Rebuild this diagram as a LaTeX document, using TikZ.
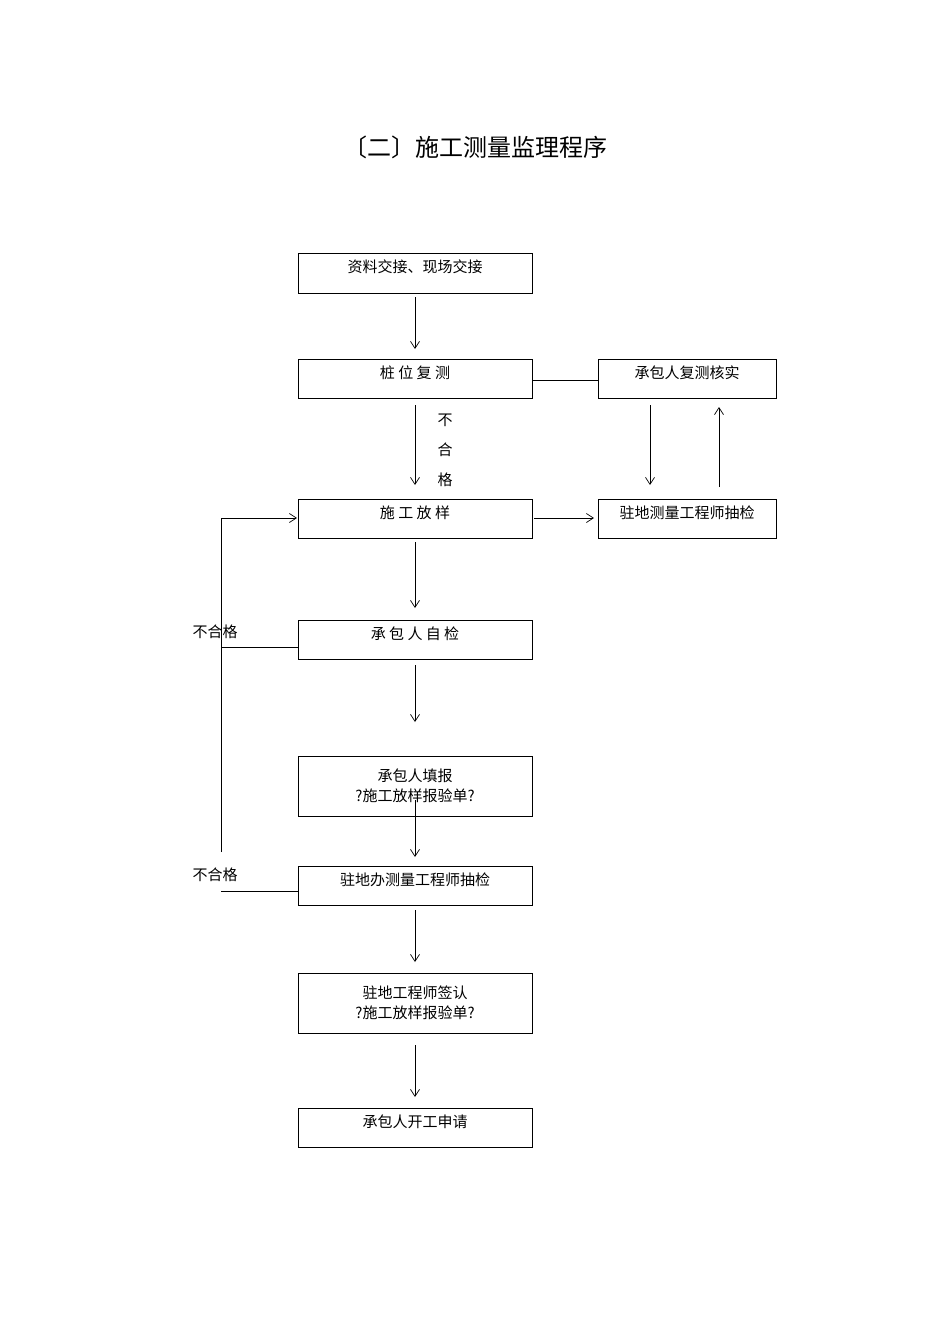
\documentclass[tikz,border=0pt]{standalone}
\usepackage{fontspec}
\setmainfont{Noto Sans CJK SC}
\usetikzlibrary{arrows.meta}
\begin{document}
\begin{tikzpicture}[x=1pt,y=-1pt,
 bx/.style={draw,line width=0.8pt,minimum width=234pt,anchor=north west,inner sep=0pt},
 sbx/.style={draw,line width=0.8pt,minimum width=178pt,anchor=north west,inner sep=0pt},
 ar/.style={-{Straight Barb[length=7pt,width=9pt]},line width=0.7pt},
 ln/.style={line width=0.7pt},
 tx/.style={font=\fontsize{15}{20}\selectfont,align=center}]
\useasboundingbox (0,0) rectangle (950,1344);
\node[font=\fontsize{24}{28}\selectfont] (title) at (475,147) {〔二〕施工测量监理程序};
\node[bx,minimum height=40pt] (b1) at (298,253) {};
\node[tx] at (415,267) {资料交接、现场交接};
\node[bx,minimum height=39pt] (b2) at (298,359) {};
\node[tx] at (415,373) {桩 位 复 测};
\node[sbx,minimum height=39pt] (b3) at (598,359) {};
\node[tx] at (687,373) {承包人复测核实};
\node[bx,minimum height=39pt] (b4) at (298,499) {};
\node[tx] at (415,513) {施 工 放 样};
\node[sbx,minimum height=39pt] (b5) at (598,499) {};
\node[tx] at (687,513) {驻地测量工程师抽检};
\node[bx,minimum height=39pt] (b6) at (298,620) {};
\node[tx] at (415,634) {承 包 人 自 检};
\node[bx,minimum height=60pt] (b7) at (298,756) {};
\node[tx] at (415,786) {承包人填报\\?施工放样报验单?};
\node[bx,minimum height=39pt] (b8) at (298,866) {};
\node[tx] at (415,880) {驻地办测量工程师抽检};
\node[bx,minimum height=60pt] (b9) at (298,973) {};
\node[tx] at (415,1003) {驻地工程师签认\\?施工放样报验单?};
\node[bx,minimum height=39pt] (b10) at (298,1108) {};
\node[tx] at (415,1122) {承包人开工申请};
\node[tx] (n1) at (445,450) {不\\[10pt]合\\[10pt]格};
\node[tx] (n2) at (215,632) {不合格};
\node[tx] (n3) at (215,875) {不合格};
\coordinate (L1) at (221,647);
\coordinate (L2) at (221,891);
\coordinate (Ltop) at (221,518);
\coordinate (Lbot) at (221,852);
\draw[ar] (415,297) -- (415,349);
\draw[ar] (415,405) -- (415,485);
\draw[ar] (415,542) -- (415,608);
\draw[ar] (415,665) -- (415,722);
\draw[ar] (415,800) -- (415,857);
\draw[ar] (415,910) -- (415,962);
\draw[ar] (415,1045) -- (415,1097);
\draw[ln] (b2.east |- 0,380) -- (b3.west |- 0,380);
\draw[ar] (650,405) -- (650,485);
\draw[ar] (719,487) -- (719,407);
\draw[ar] (534,518) -- (594,518);
\draw[ln] (b6.west |- L1) -- (L1);
\draw[ln] (b8.west |- L2) -- (L2);
\draw[ln] (Lbot) -- (Ltop);
\draw[ar] (Ltop) -- (297,518);
\end{tikzpicture}
\end{document}
